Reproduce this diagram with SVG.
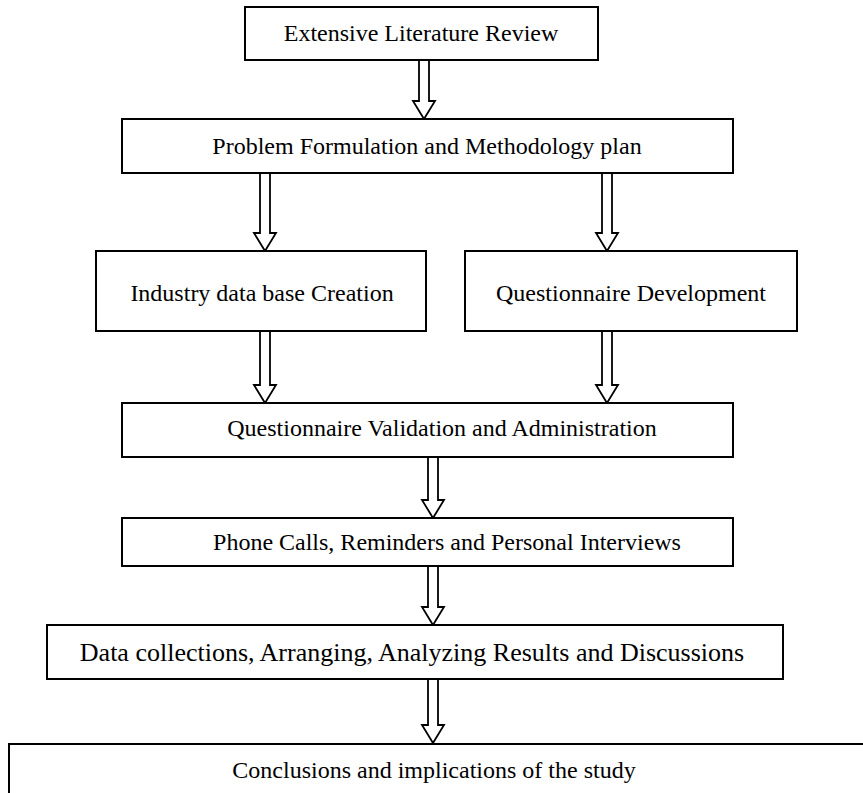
<svg xmlns="http://www.w3.org/2000/svg" width="863" height="793" viewBox="0 0 863 793">
<style>
.box{fill:#fff;stroke:#000;stroke-width:2}
.lbl{font-family:"Liberation Serif","Times New Roman",serif;font-size:24px;fill:#000;text-anchor:middle;dominant-baseline:central}
.arr{fill:#fff;stroke:#000;stroke-width:1.8;stroke-linejoin:miter}
</style>
<rect width="863" height="793" fill="#fff"/>
<g id="connectors">
<path class="arr" d="M419,60 L429,60 L429,101 L435,101 L424,119 L413,101 L419,101 Z"/>
<path class="arr" d="M260,173 L270,173 L270,233 L276,233 L265,251 L254,233 L260,233 Z"/>
<path class="arr" d="M602,173 L612,173 L612,233 L618,233 L607,251 L596,233 L602,233 Z"/>
<path class="arr" d="M260,331 L270,331 L270,385 L276,385 L265,403 L254,385 L260,385 Z"/>
<path class="arr" d="M602,331 L612,331 L612,385 L618,385 L607,403 L596,385 L602,385 Z"/>
<path class="arr" d="M428,457 L438,457 L438,500 L444,500 L433,518 L422,500 L428,500 Z"/>
<path class="arr" d="M428,566 L438,566 L438,607 L444,607 L433,625 L422,607 L428,607 Z"/>
<path class="arr" d="M428,679 L438,679 L438,725 L444,725 L433,743 L422,725 L428,725 Z"/>
</g>
<g id="n1"><rect class="box" x="245" y="7" width="353" height="53"/><text class="lbl" x="421" y="33">Extensive Literature Review</text></g>
<g id="n2"><rect class="box" x="122" y="119" width="611" height="54"/><text class="lbl" x="427" y="146">Problem Formulation and Methodology plan</text></g>
<g id="n3"><rect class="box" x="96" y="251" width="330" height="80"/><text class="lbl" x="262" y="293">Industry data base Creation</text></g>
<g id="n4"><rect class="box" x="465" y="251" width="332" height="80"/><text class="lbl" x="631" y="293">Questionnaire Development</text></g>
<g id="n5"><rect class="box" x="122" y="403" width="611" height="54"/><text class="lbl" x="442" y="428">Questionnaire Validation and Administration</text></g>
<g id="n6"><rect class="box" x="122" y="518" width="611" height="48"/><text class="lbl" x="447" y="542">Phone Calls, Reminders and Personal Interviews</text></g>
<g id="n7"><rect class="box" x="47" y="625" width="736" height="54"/><text class="lbl" x="412" y="652" style="font-size:26px">Data collections, Arranging, Analyzing Results and Discussions</text></g>
<g id="n8"><rect class="box" x="9" y="744" width="870" height="60"/><text class="lbl" x="434" y="770">Conclusions and implications of the study</text></g>
</svg>
